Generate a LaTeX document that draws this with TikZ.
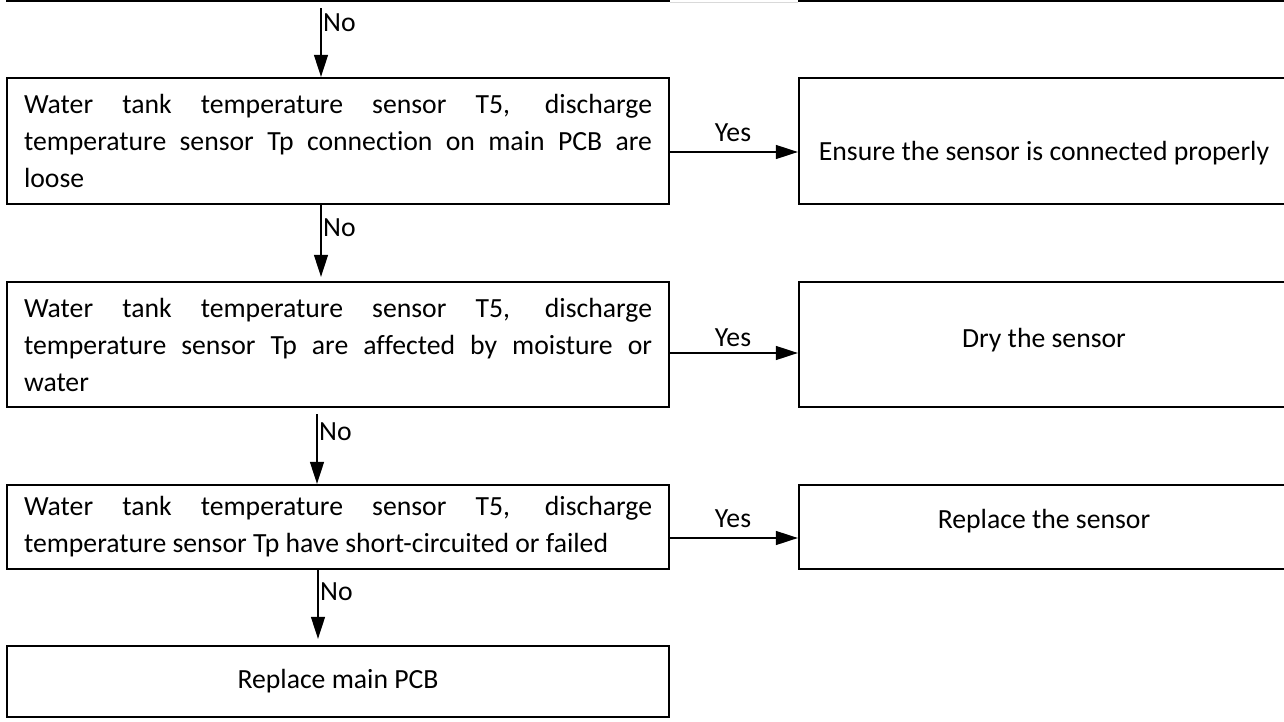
\documentclass[tikz,border=0pt]{standalone}
\usepackage{fontspec}
\setmainfont{Carlito}[Ligatures=NoCommon]
\usetikzlibrary{arrows.meta}
\newcommand{\jline}[1]{\makebox[628pt][s]{\spaceskip=\fontdimen2\font plus 1fil\relax #1}}
\newcommand{\nline}[1]{\mbox{\spaceskip=\fontdimen2\font\relax #1}}
\begin{document}
\begin{tikzpicture}[x=1pt,y=-1pt,
  box/.style={draw, line width=2.3pt, rectangle, inner sep=0pt,
    font=\fontsize{27.7}{37}\selectfont},
  qbox/.style={box, minimum width=662pt, text width=628pt, align=left},
  abox/.style={box, minimum width=490pt},
  arr/.style={line width=1.3pt, -{Triangle[length=22pt,width=14pt]}},
  lbl/.style={font=\fontsize{27.7}{33}\selectfont, inner sep=0pt}]
\useasboundingbox (0,0) rectangle (1284,722);
\clip (0,0) rectangle (1284,722);
% partial boxes at the top
\node[box, minimum width=662pt, minimum height=80pt] (p1) at (338,-39) {};
\node[box, minimum width=490pt, minimum height=80pt] (p2) at (1044,-39) {};
\draw[gray!30, line width=1pt] (p1.south east) -- (p2.south west);
% questions
\node[qbox, minimum height=126pt] (b1) at (338,141)
  {\jline{Water tank temperature sensor T5, discharge}\\
   \jline{temperature sensor Tp connection on main PCB are}\\
   loose};
\node[qbox, minimum height=125pt] (b2) at (338,344.5)
  {\jline{Water tank temperature sensor T5, discharge}\\
   \jline{temperature sensor Tp are affected by moisture or}\\
   water};
\node[qbox, minimum height=84pt] (b3) at (338,527)
  {\jline{Water tank temperature sensor T5, discharge}\\
   \nline{temperature sensor Tp have short-circuited or failed}};
\node[box, minimum width=662pt, minimum height=71pt] (b4) at (338,681.5)
  {Replace main PCB};
% actions
\node[abox, minimum height=126pt, text height=45pt, text depth=5.5pt] (r1) at (1044,141)
  {Ensure the sensor is connected properly};
\node[abox, minimum height=125pt, text height=17pt, text depth=11.5pt] (r2) at (1044,344.5) {Dry the sensor};
\node[abox, minimum height=84pt, text height=16pt, text depth=12.5pt] (r3) at (1044,527) {Replace the sensor};
% No arrows
\draw[arr] ([xshift=-17pt,yshift=-6pt]p1.south) -- ([xshift=-17pt]b1.north);
\draw[arr] ([xshift=-17pt]b1.south) -- ([xshift=-17pt,yshift=4pt]b2.north);
\draw[arr] ([xshift=-21pt,yshift=-6pt]b2.south) -- ([xshift=-21pt]b3.north);
\draw[arr] ([xshift=-20pt]b3.south) -- ([xshift=-20pt,yshift=6pt]b4.north);
\node[lbl, anchor=west] (n1) at (323,23) {No};
\node[lbl, anchor=west] (n2) at (323,228) {No};
\node[lbl, anchor=west] (n3) at (319,432) {No};
\node[lbl, anchor=west] (n4) at (320,592) {No};
% Yes arrows
\draw[arr] ([yshift=-11pt]b1.east) -- ([yshift=-11pt]b1.east -| r1.west);
\draw[arr] ([yshift=-8.5pt]b2.east) -- ([yshift=-8.5pt]b2.east -| r2.west);
\draw[arr] ([yshift=-11pt]b3.east) -- ([yshift=-11pt]b3.east -| r3.west);
\node[lbl] (y1) at (733,133) {Yes};
\node[lbl] (y2) at (733,338) {Yes};
\node[lbl] (y3) at (733,519) {Yes};
\end{tikzpicture}
\end{document}
